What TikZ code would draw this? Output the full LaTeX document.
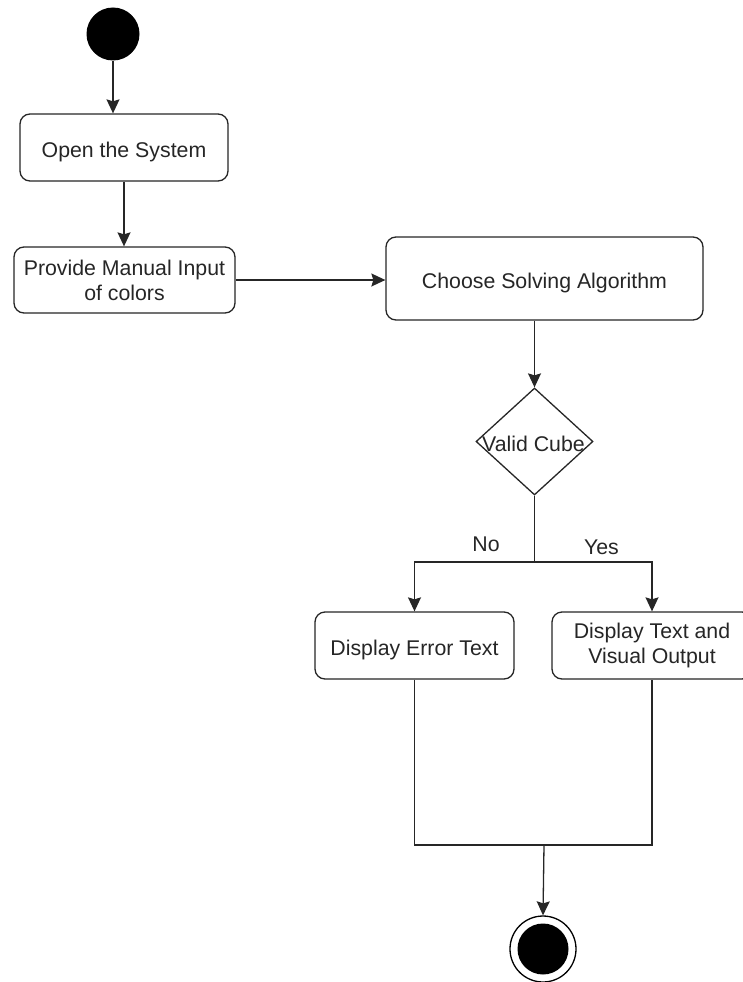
\documentclass[tikz,border=0pt]{standalone}
\usepackage{fontspec}
\setmainfont{Liberation Sans}
\usetikzlibrary{arrows.meta,shapes.geometric}

\tikzset{
  flow/.style={line width=1.3pt, draw=black!85},
  arr/.style={flow, -{Stealth[length=14pt,width=13pt,inset=2pt]}},
  act/.style={draw=black!85, line width=1.3pt, rounded corners=10pt, fill=white,
    inner sep=0pt, align=center, text=black!85,
    font=\fontsize{21.3}{25}\selectfont},
  % single-line texts sit with their baseline about 10pt under the box centre
  oneline/.style={text height=20.5pt, text depth=0pt},
  lbl/.style={inner sep=0pt, text=black!85, font=\fontsize{21.3}{25}\selectfont},
}

\begin{document}
\begin{tikzpicture}[x=1pt,y=-1pt]
  \useasboundingbox (0,0) rectangle (742,982);

  % initial and final states
  \node (start) [circle, fill=black, minimum size=53pt, inner sep=0pt] at (113,34) {};
  \node (stop) [circle, draw=black, line width=1.3pt, fill=white, minimum size=66pt, inner sep=0pt] at (543,949) {};
  \fill[black] (stop.center) circle (25.5pt);

  % activities
  \node (open)   [act, oneline, minimum width=208pt, minimum height=67pt] at (124,147.5) {Open the System};
  \node (input)  [act, minimum width=221pt, minimum height=66pt] at (124.5,280) {Provide Manual Input\\of colors};
  \node (choose) [act, oneline, minimum width=317pt, minimum height=83pt] at (544.5,278.5) {Choose Solving Algorithm};
  \node (err)    [act, oneline, minimum width=199pt, minimum height=67pt] at (414.5,645.5) {Display Error Text};
  \node (ok)     [act, minimum width=200pt, minimum height=67pt] at (652,645.5) {Display Text and\\Visual Output};

  % decision
  \node (valid) [diamond, draw=black!85, line width=1.3pt, fill=white, inner sep=0pt,
    minimum width=117pt, minimum height=107pt] at (534.5,441.5) {};
  \node (validtxt) [lbl, oneline] at (533.5,441.5) {Valid Cube};

  % branch and merge points
  \coordinate (split) at (534.5,562);
  \coordinate (mrg) at (544,845);

  % control flow
  \draw[arr] (start) -- (start |- open.north);
  \draw[arr] (open.south) -- (open.south |- input.north);
  \draw[arr] (input.east) -- (choose.west |- input.east);
  \draw[arr] (valid.north |- choose.south) -- (valid.north);
  \draw[flow] (valid.south) -- (split);
  \draw[arr] (split) -| (err.north);
  \draw[arr] (split) -| (ok.north);
  \draw[flow] (err.south) |- (mrg) -| (ok.south);
  \draw[arr] (mrg) -- (stop.north);

  % guard labels
  \node (no)  [lbl, anchor=base] at (486,551) {No};
  \node (yes) [lbl, anchor=base] at (601.5,554) {Yes};
\end{tikzpicture}
\end{document}
